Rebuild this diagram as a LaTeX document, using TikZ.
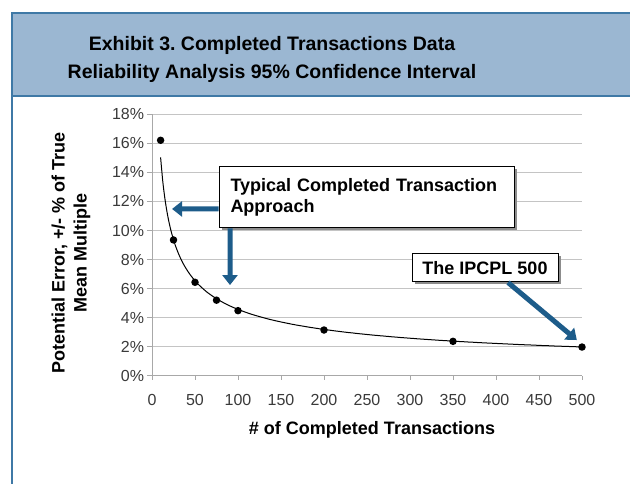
\documentclass[tikz,border=0pt]{standalone}
\usepackage{fontspec}
\setmainfont{Liberation Sans}
\usetikzlibrary{arrows.meta,shadows}
\definecolor{bannerblue}{HTML}{9BB7D2}
\definecolor{borderblue}{HTML}{3F79A6}
\definecolor{arrowblue}{HTML}{1D5C8A}
\definecolor{gridgray}{HTML}{C4C4C4}
\definecolor{axisgray}{HTML}{A8A8A8}
\definecolor{ticktext}{HTML}{3A3A3A}
\tikzset{
  callout/.style={rectangle, draw=black, line width=1pt, fill=white, font=\fontsize{18}{21}\selectfont\bfseries, drop shadow={shadow xshift=2.5pt, shadow yshift=-2.5pt, fill=black!45, opacity=1}},
  pointer/.style={arrowblue, line width=5pt, -{Triangle[width=15pt,length=10pt]}},
  datapt/.style={circle, fill=black, inner sep=0pt, minimum size=7.5pt},
  ticklabel/.style={font=\fontsize{16}{18}\selectfont, text=ticktext, inner sep=0pt},
  axistitle/.style={font=\fontsize{18}{22}\selectfont\bfseries, align=center}
}
\frenchspacing
\begin{document}
\begin{tikzpicture}[x=1pt,y=1pt]
\useasboundingbox (0,0) rectangle (630,484);
% banner and frame
\draw[borderblue, line width=2pt] (12,471) -- (12,-5);
\draw[fill=bannerblue, draw=borderblue, line width=2pt] (12,471) rectangle (645,388);
\node[align=center, font=\fontsize{19.5}{28}\selectfont\bfseries] (title) at (272,425) {Exhibit 3. Completed Transactions Data\\Reliability Analysis 95\% Confidence Interval};
% plot area
\begin{scope}[shift={(152,108)}, xscale=0.86, yscale=14.55]
  \foreach \y in {2,4,...,18}
    \draw[gridgray, line width=1pt] (0,\y) -- (500,\y);
  \draw[axisgray, line width=1pt] (0,18) -- (0,0) -- (500,0);
  \foreach \y in {0,2,...,18} {
    \draw[axisgray, line width=1pt] (-6,\y) -- (0,\y);
    \node[ticklabel, anchor=east] (ylab\y) at (-9,\y) {\y\%};
  }
  \foreach \x in {0,50,...,500} {
    \draw[axisgray, line width=1pt] (\x,0) -- (\x,-0.3);
    \node[ticklabel] (xlab\x) at (\x,-1.65) {\x};
  }
  % fitted curve and data
  \draw[black, line width=1pt, domain=10:500, samples=200, smooth] plot (\x, {49.3*exp(-0.516*ln(\x))});
  \foreach \n/\v in {10/16.2, 25/9.35, 50/6.44, 75/5.21, 100/4.49, 200/3.16, 350/2.38, 500/1.99}
    \node[datapt] (p\n) at (\n,\v) {};
  \coordinate (tipA) at (23.3,11.48);
  \coordinate (tipB) at (90.7,6.25);
  \coordinate (tipC) at (494,2.47);
\end{scope}
% axis titles
\node[axistitle] (xtitle) at (372,54) {\# of Completed Transactions};
\node[axistitle, rotate=90] (ytitle) at (71,231) {Potential Error, +/- \% of True\\Mean Multiple};
% call-outs
\node[callout, minimum width=295pt, minimum height=61pt, text width=272pt, align=left, inner xsep=11pt] (typical) at (366.5,286.5) {Typical Completed Transaction\\Approach};
\node[callout, minimum width=146pt, minimum height=28pt, inner sep=2pt] (ipcpl) at (485,216) {The IPCPL 500};
\draw[pointer] ([yshift=-11.5pt]typical.west) -- (tipA);
\draw[pointer] ([xshift=-136.5pt]typical.south) -- (tipB);
\draw[pointer] ([xshift=23pt]ipcpl.south) -- (tipC);
\end{tikzpicture}
\end{document}
